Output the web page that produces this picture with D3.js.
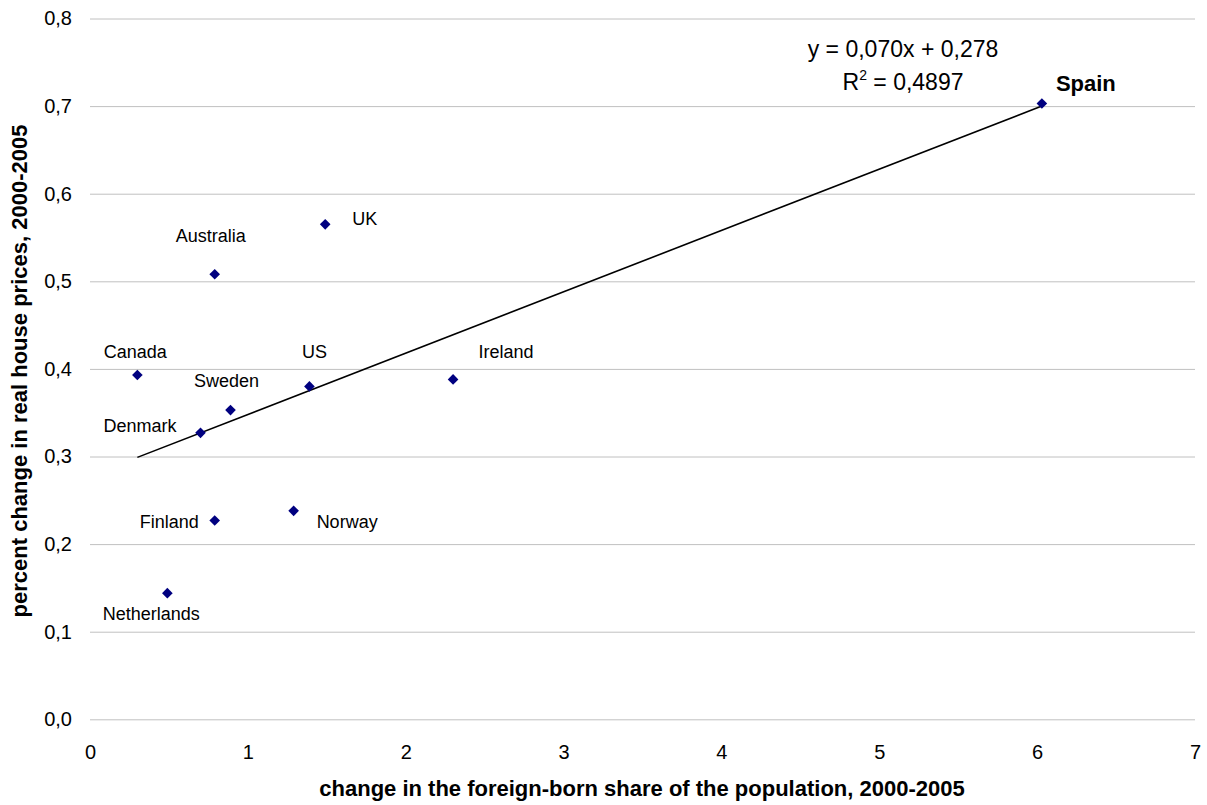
<!DOCTYPE html>
<html>
<head>
<meta charset="utf-8">
<script src="https://cdn.jsdelivr.net/npm/d3@7"></script>
<style>
  body { margin: 0; background: #fff; }
  text { font-family: Arial, "Liberation Sans", Helvetica, sans-serif; fill: #000; }
</style>
</head>
<body>
<div id="chart"></div>
<script>
// Data
var countries = ["Spain", "UK", "Australia", "Canada", "Sweden", "US", "Ireland", "Denmark", "Finland", "Norway", "Netherlands"];
var foreignShare = [6.03, 1.49, 0.79, 0.30, 0.89, 1.39, 2.30, 0.70, 0.79, 1.29, 0.49];
var housePrice = [0.703, 0.565, 0.508, 0.393, 0.353, 0.380, 0.388, 0.327, 0.227, 0.238, 0.144];
var xTicks = [0, 1, 2, 3, 4, 5, 6, 7];
var yTicks = [0, 0.1, 0.2, 0.3, 0.4, 0.5, 0.6, 0.7, 0.8];
var trendSlope = 0.070, trendIntercept = 0.278, rSquared = "0,4897";

// label placement relative to each marker: dx, baseline dy, anchor
var labelPlace = {
    "Spain": [14, -12, "start"],
    "UK": [27, 1, "start"],
    "Australia": [-4, -32, "middle"],
    "Canada": [-2, -17, "middle"],
    "Sweden": [-4, -23, "middle"],
    "US": [5, -28, "middle"],
    "Ireland": [53, -21, "middle"],
    "Denmark": [-24, -1, "end"],
    "Finland": [-16, 8, "end"],
    "Norway": [23, 17, "start"],
    "Netherlands": [-16, 27, "middle"]
};

var width = 1207, height = 805;
var margin = {left: 90, right: 12, top: 18.5, bottom: 85.7};

var svg = d3.select("#chart").append("svg")
    .attr("width", width)
    .attr("height", height);

var x = d3.scaleLinear().domain([0, 7]).range([margin.left, width - margin.right]);
var y = d3.scaleLinear().domain([0, 0.8]).range([height - margin.bottom, margin.top]);

var fmt = function(d) { return d3.format(".1f")(d).replace(".", ","); };
function fmt3(v) { return d3.format(".3f")(v).replace(".", ","); }

// horizontal gridlines + y labels
var yAxis = d3.axisLeft(y)
    .tickValues(yTicks)
    .tickSize(-(width - margin.left - margin.right))
    .tickPadding(18)
    .tickFormat(fmt);

var gy = svg.append("g")
    .attr("transform", "translate(" + margin.left + ",0)")
    .call(yAxis);
gy.select(".domain").remove();
gy.selectAll(".tick line").attr("stroke", "#c0c0c0");
gy.selectAll(".tick text")
    .style("font-size", "20px")
    .style("font-family", "Arial, 'Liberation Sans', sans-serif");

// x labels (no axis line)
var xAxis = d3.axisBottom(x)
    .tickValues(xTicks)
    .tickSize(0)
    .tickPadding(26)
    .tickFormat(d3.format("d"));

var gx = svg.append("g")
    .attr("transform", "translate(0," + y(0) + ")")
    .call(xAxis);
gx.select(".domain").remove();
gx.selectAll(".tick text")
    .style("font-size", "20px")
    .style("font-family", "Arial, 'Liberation Sans', sans-serif");

// trend line across the range of the data
var xMin = d3.min(foreignShare), xMax = d3.max(foreignShare);
svg.append("line")
    .attr("x1", x(xMin))
    .attr("y1", y(trendSlope * xMin + trendIntercept))
    .attr("x2", x(xMax))
    .attr("y2", y(trendSlope * xMax + trendIntercept))
    .attr("stroke", "#000")
    .attr("stroke-width", 1.6);

// markers and their labels
var diamond = d3.symbol().type(d3.symbolDiamond2).size(72);
for (let i = 0; i < countries.length; i++) {
    svg.append("path")
        .attr("d", diamond)
        .attr("transform", "translate(" + x(foreignShare[i]) + "," + y(housePrice[i]) + ")")
        .attr("fill", "#000080");

    let p = labelPlace[countries[i]];
    let isSpain = countries[i] === "Spain";
    svg.append("text")
        .attr("x", x(foreignShare[i]) + p[0])
        .attr("y", y(housePrice[i]) + p[1])
        .attr("text-anchor", p[2])
        .style("font-size", isSpain ? "22px" : "18px")
        .style("font-weight", isSpain ? "bold" : "normal")
        .text(countries[i]);
}

// regression equation
svg.append("text")
    .attr("x", 903)
    .attr("y", 57)
    .attr("text-anchor", "middle")
    .style("font-size", "23px")
    .text("y = " + fmt3(trendSlope) + "x + " + fmt3(trendIntercept));

var r2 = svg.append("text")
    .attr("x", 903)
    .attr("y", 90)
    .attr("text-anchor", "middle")
    .style("font-size", "23px");
r2.append("tspan").text("R");
r2.append("tspan").attr("dy", -10).style("font-size", "14px").text("2");
r2.append("tspan").attr("dy", 10).text(" = " + rSquared);

// axis titles
svg.append("text")
    .attr("x", 642)
    .attr("y", 796)
    .attr("text-anchor", "middle")
    .style("font-size", "22px")
    .style("font-weight", "bold")
    .text("change in the foreign-born share of the population, 2000-2005");

svg.append("text")
    .attr("transform", "translate(27,371) rotate(-90)")
    .attr("text-anchor", "middle")
    .style("font-size", "22px")
    .style("font-weight", "bold")
    .text("percent change in real house prices, 2000-2005");
</script>
</body>
</html>
